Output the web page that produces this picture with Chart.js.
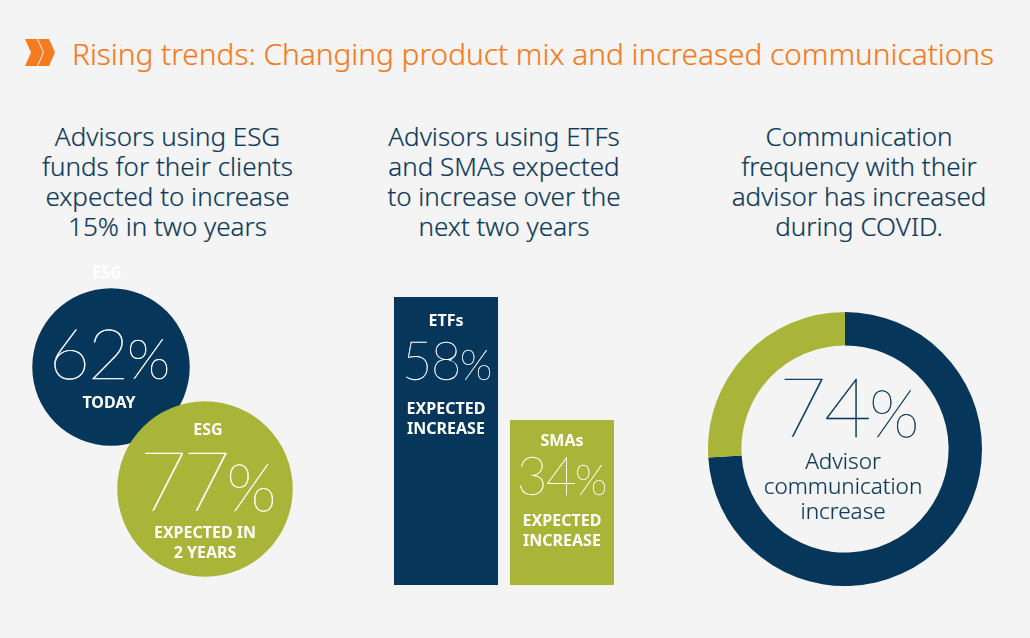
<!DOCTYPE html>
<html>
<head>
<meta charset="utf-8">
<title>Rising trends</title>
<script src="https://cdn.jsdelivr.net/npm/chart.js@4"></script>
<style>
  html, body { margin: 0; padding: 0; background: #f4f4f4; }
  body { position: relative; width: 1030px; height: 638px; overflow: hidden; font-family: "Noto Sans", sans-serif; }
  canvas { position: absolute; }
  .txt { position: absolute; transform: translateX(-50%); text-align: center; white-space: nowrap; }
  #title { position: absolute; left: 72px; top: 34px; font-size: 29.8px; font-weight: 300; line-height: 40px; color: #f47b20; white-space: nowrap; -webkit-text-stroke: 0.2px currentColor; }
  .head { color: #0e3a5c; font-size: 26px; font-weight: 300; line-height: 30px; -webkit-text-stroke: 0.2px currentColor; }
  .big { color: #fff; font-family: Lato, sans-serif; font-weight: 100; letter-spacing: -0.03em; -webkit-text-stroke: 0.5px currentColor; }
  .big span { font-size: 0.8em; letter-spacing: 0; }
  .lab { color: #fff; font-family: "Noto Sans", sans-serif; font-weight: 700; font-size: 16px; line-height: 20px; }
</style>
</head>
<body>
<svg style="position:absolute;left:0;top:0" width="70" height="80">
  <polygon fill="#f47b20" points="25,39 37,39 43,52.5 37,66 25,66 31,52.5"></polygon>
  <polygon fill="#f47b20" points="38,66 44,52.5 38,39 49,39 55,52.5 49,66"></polygon>
</svg>
<div id="title">Rising trends: Changing product mix and increased communications</div>

<canvas id="esgChart" width="330" height="340" style="left:0;top:260px"></canvas>
<canvas id="barChart" width="232" height="288" style="left:388px;top:297px"></canvas>
<canvas id="commChart" width="274" height="274" style="left:708px;top:312px"></canvas>

<script>
const headings = [
  'Advisors using ESG<br>funds for their clients<br>expected to increase<br>15% in two years',
  'Advisors using ETFs<br>and SMAs expected<br>to increase over the<br>next two years',
  'Communication<br>frequency with their<br>advisor has increased<br>during COVID.'
];

const esgLabels = ['TODAY', 'EXPECTED IN 2 YEARS'];
const esgValues = [62, 77];

const barLabels = ['ETFs', 'SMAs'];
const barValues = [58, 34];

const commLabels = ['Advisor communication increase', 'Other'];
const commValues = [74, 26];

const navy = '#06365a';
const green = '#a9b538';

// headings + text over the marks
function addText(cls, x, y, html, extra) {
  const el = document.createElement('div');
  el.className = 'txt ' + cls;
  el.style.left = x + 'px';
  el.style.top = y + 'px';
  el.innerHTML = html;
  if (extra) Object.assign(el.style, extra);
  document.body.appendChild(el);
}

function pct(v) {
  return v + '<span>%</span>';
}

addText('head', 167.5, 121, headings[0]);
addText('head', 504, 121, headings[1]);
addText('head', 859, 121, headings[2]);

// ESG circles: area follows the value, y position runs down with the value
new Chart(document.getElementById('esgChart'), {
  type: 'bubble',
  data: {
    labels: esgLabels,
    datasets: [{
      data: esgValues.map((v, i) => ({ x: esgLabels[i], y: v, r: 10 * Math.sqrt(v) })),
      backgroundColor: [navy, green],
      borderWidth: 0,
      clip: false
    }]
  },
  options: {
    responsive: false,
    animation: false,
    layout: { padding: { left: 111, right: 125, top: 107, bottom: 111 } },
    plugins: { legend: { display: false }, tooltip: { enabled: false } },
    scales: {
      x: { type: 'category', display: false, offset: false },
      y: { display: false, reverse: true, min: 62, max: 77 }
    }
  }
});

// ETFs / SMAs bars
new Chart(document.getElementById('barChart'), {
  type: 'bar',
  data: {
    labels: barLabels,
    datasets: [{
      data: barValues,
      backgroundColor: [navy, green],
      borderWidth: 0,
      categoryPercentage: 1,
      barPercentage: 0.897
    }]
  },
  options: {
    responsive: false,
    animation: false,
    plugins: { legend: { display: false }, tooltip: { enabled: false } },
    scales: {
      x: { display: false },
      y: { display: false, min: 1.8, max: 58 }
    }
  }
});

// Communication ring
new Chart(document.getElementById('commChart'), {
  type: 'doughnut',
  data: {
    labels: commLabels,
    datasets: [{
      data: commValues,
      backgroundColor: [navy, green],
      borderWidth: 0
    }]
  },
  options: {
    responsive: false,
    animation: false,
    cutout: '75.6%',
    plugins: { legend: { display: false }, tooltip: { enabled: false } }
  }
});

// circle texts
addText('lab', 107, 262, 'ESG');
addText('big', 109.5, 307, pct(esgValues[0]), { fontSize: '71px', lineHeight: '90px' });
addText('lab', 109, 392, esgLabels[0]);
addText('lab', 208, 419, 'ESG');
addText('big', 208, 424, pct(esgValues[1]), { fontSize: '82px', lineHeight: '110px', letterSpacing: '-0.05em' });
addText('lab', 205, 522, 'EXPECTED IN<br>2 YEARS');

// bar texts
addText('lab', 446, 310, barLabels[0]);
addText('big', 447, 325, pct(barValues[0]), { fontSize: '53px', lineHeight: '70px', webkitTextStroke: '0.3px #fff' });
addText('lab', 446, 398, 'EXPECTED<br>INCREASE');
addText('lab', 562, 430, barLabels[1]);
addText('big', 562, 440, pct(barValues[1]), { fontSize: '53px', lineHeight: '70px', webkitTextStroke: '0.3px #fff' });
addText('lab', 562, 510, 'EXPECTED<br>INCREASE');

// ring texts
addText('big', 849, 350, pct(commValues[0]), { color: navy, fontSize: '82px', lineHeight: '110px' });
addText('head', 843, 448, 'Advisor<br>communication<br>increase', { fontSize: '22.5px', lineHeight: '25px' });
</script>
</body>
</html>
